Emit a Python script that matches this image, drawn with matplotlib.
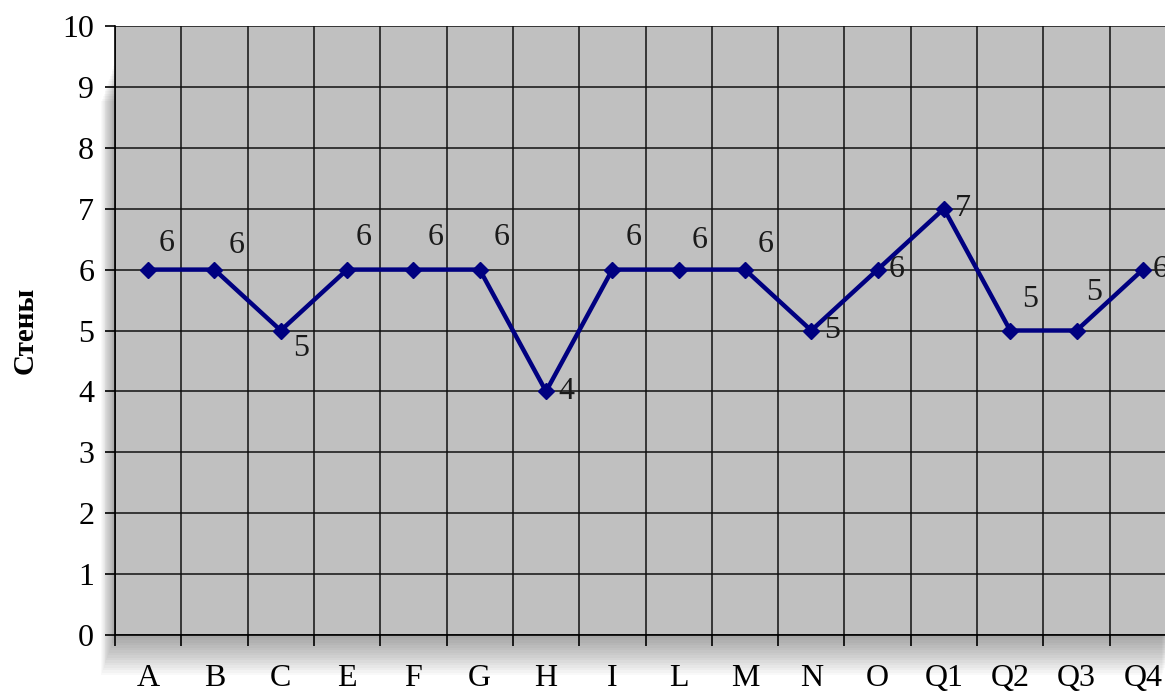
import matplotlib
matplotlib.use('Agg')
import matplotlib.pyplot as plt
from matplotlib.patches import Rectangle

categories = ['A', 'B', 'C', 'E', 'F', 'G', 'H', 'I', 'L', 'M', 'N', 'O', 'Q1', 'Q2', 'Q3', 'Q4']
values = [6, 6, 5, 6, 6, 6, 4, 6, 6, 6, 5, 6, 7, 5, 5, 6]
y_ticks = [0, 1, 2, 3, 4, 5, 6, 7, 8, 9, 10]
y_label = 'Стены'

# label offsets in points (dx, dy), per point
label_offsets = [(13, 19), (16, 17), (15, -13), (12, 23), (16, 23), (16, 23),
                 (15, 0), (15, 23), (15, 21), (15, 18), (15, 0), (14, 0),
                 (14, 0), (14, 22), (13, 27), (13, 0)]

plt.rcParams['font.family'] = ['Liberation Serif', 'DejaVu Serif']

fig = plt.figure(figsize=(11.65, 7), dpi=100)
ax_left, ax_bottom, ax_w, ax_h = 115 / 1165, 65 / 700, 1061 / 1165, 609 / 700

# soft shadow below / left of the plot area
for i in range(16):
    off = (i + 1) * 2.5
    fig.patches.append(Rectangle((ax_left - off * 0.35 / 1165, ax_bottom - off / 700),
                                 ax_w, ax_h - 0.05, transform=fig.transFigure,
                                 facecolor='black', edgecolor='none',
                                 alpha=0.025, zorder=0))

ax = fig.add_axes([ax_left, ax_bottom, ax_w, ax_h])
ax.set_zorder(2)
ax.set_facecolor('#c0c0c0')
x = list(range(len(categories)))

ax.plot(x, values, color='#000080', lw=3.2, marker='D', markersize=8.5, zorder=3, clip_on=False)
for xi, v, (dx, dy) in zip(x, values, label_offsets):
    ax.annotate(str(v), (xi, v), xytext=(dx, dy), textcoords='offset points',
                ha='center', va='center', fontsize=23, color='#1a1a1a', annotation_clip=False)

ax.set_xlim(-0.5, len(categories) - 0.5)
ax.set_ylim(0, 10)
ax.set_yticks(y_ticks)
ax.set_yticklabels([str(t) for t in y_ticks], fontsize=23)
ax.set_xticks([i - 0.5 for i in range(len(categories) + 1)])
ax.set_xticklabels([])
ax.set_xticks(x, minor=True)
ax.set_xticklabels(categories, minor=True, fontsize=23)
ax.tick_params(axis='x', which='minor', length=0, pad=21)
ax.tick_params(axis='x', which='major', length=8, width=1.2, direction='out')
ax.tick_params(axis='y', length=7, width=1.2, pad=8)
ax.grid(True, which='major', color='#111111', lw=1.1)
ax.set_axisbelow(True)
for side in ['top', 'right']:
    ax.spines[side].set_visible(False)
ax.spines['left'].set_linewidth(1.2)
ax.spines['bottom'].set_linewidth(1.2)

fig.text(25 / 1165, 1 - 330 / 700, y_label, rotation=90, fontsize=21, fontweight='bold',
         ha='center', va='center')

fig.savefig('out.png', dpi=100)
